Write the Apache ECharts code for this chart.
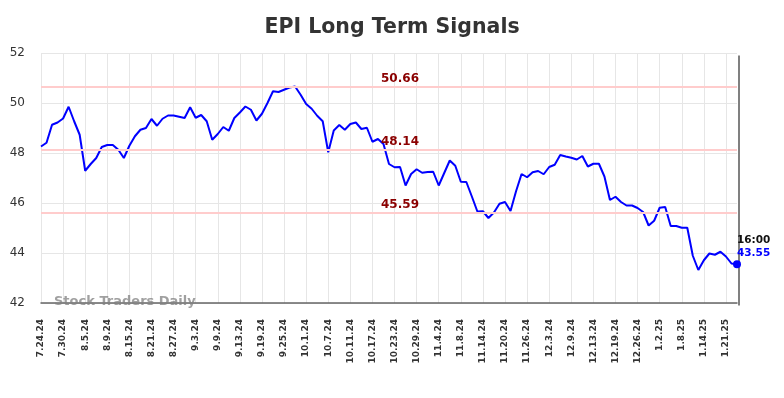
<!DOCTYPE html>
<html><head><meta charset="utf-8">
<script src="https://cdn.jsdelivr.net/npm/echarts@6/dist/echarts.min.js"></script>
<style>html,body{margin:0;padding:0;background:#fff}#c{width:784px;height:398px}</style>
</head><body><div id="c"></div>
<script>
const dates = [
"7.24.24","7.25.24","7.26.24","7.29.24","7.30.24","7.31.24",
"8.1.24","8.2.24","8.5.24","8.6.24","8.7.24","8.8.24","8.9.24","8.12.24","8.13.24","8.14.24","8.15.24","8.16.24","8.19.24","8.20.24","8.21.24","8.22.24","8.23.24","8.26.24","8.27.24","8.28.24","8.29.24","8.30.24",
"9.3.24","9.4.24","9.5.24","9.6.24","9.9.24","9.10.24","9.11.24","9.12.24","9.13.24","9.16.24","9.17.24","9.18.24","9.19.24","9.20.24","9.23.24","9.24.24","9.25.24","9.26.24","9.27.24","9.30.24",
"10.1.24","10.2.24","10.3.24","10.4.24","10.7.24","10.8.24","10.9.24","10.10.24","10.11.24","10.14.24","10.15.24","10.16.24","10.17.24","10.18.24","10.21.24","10.22.24","10.23.24","10.24.24","10.25.24","10.28.24","10.29.24","10.30.24","10.31.24",
"11.1.24","11.4.24","11.5.24","11.6.24","11.7.24","11.8.24","11.11.24","11.12.24","11.13.24","11.14.24","11.15.24","11.18.24","11.19.24","11.20.24","11.21.24","11.22.24","11.25.24","11.26.24","11.27.24","11.29.24",
"12.2.24","12.3.24","12.4.24","12.5.24","12.6.24","12.9.24","12.10.24","12.11.24","12.12.24","12.13.24","12.16.24","12.17.24","12.18.24","12.19.24","12.20.24","12.23.24","12.24.24","12.26.24","12.27.24","12.30.24","12.31.24",
"1.2.25","1.3.25","1.6.25","1.7.25","1.8.25","1.9.25","1.10.25","1.13.25","1.14.25","1.15.25","1.16.25","1.17.25","1.21.25","1.22.25","1.23.25"
];
const prices = [
48.26,48.41,49.13,49.22,49.38,49.85,49.27,48.73,47.29,47.56,
47.80,48.24,48.32,48.32,48.13,47.80,48.29,48.67,48.93,49.00,
49.36,49.09,49.37,49.50,49.50,49.45,49.40,49.83,49.41,49.52,
49.27,48.53,48.76,49.04,48.89,49.40,49.62,49.86,49.73,49.30,
49.57,50.00,50.47,50.44,50.53,50.62,50.66,50.33,49.96,49.77,
49.49,49.27,48.03,48.90,49.12,48.93,49.16,49.22,48.96,49.01,
48.45,48.56,48.36,47.56,47.43,47.44,46.70,47.16,47.35,47.21,
47.24,47.25,46.70,47.20,47.70,47.49,46.85,46.84,46.26,45.66,
45.67,45.40,45.62,45.97,46.04,45.68,46.47,47.16,47.03,47.23,
47.28,47.15,47.44,47.53,47.92,47.86,47.81,47.74,47.88,47.46,
47.57,47.57,47.06,46.12,46.25,46.04,45.90,45.90,45.80,45.64,
45.10,45.29,45.81,45.84,45.08,45.08,45.01,45.01,43.89,43.32,
43.71,43.98,43.93,44.05,43.86,43.58,43.55
];
const levels = [50.66, 48.14, 45.59];
const yTicks = [42, 44, 46, 48, 50, 52];
const lastTime = "16:00";

const chart = echarts.init(document.getElementById('c'), null, {renderer:'canvas'});
const last = prices.length - 1;

chart.setOption({
  animation: false,
  title: {
    text: 'EPI Long Term Signals', left: 'center', top: 12,
    textStyle: {fontFamily: 'DejaVu Sans', fontWeight: 'bold', fontSize: 20.5, color: '#333'}
  },
  grid: {left: 41, right: 47, top: 53, bottom: 95},
  xAxis: {
    type: 'category', data: dates, boundaryGap: false,
    axisLine: {show: true, lineStyle: {color: '#666', width: 1.5}},
    axisTick: {show: false},
    axisLabel: {
      interval: 3, rotate: 90, color: '#333', fontFamily: 'DejaVu Sans',
      fontWeight: 'bold', fontSize: 9, margin: 16
    },
    splitLine: {show: true, interval: 3, lineStyle: {color: '#e6e6e6', width: 1}}
  },
  yAxis: {
    type: 'value', min: yTicks[0], max: yTicks[yTicks.length - 1], interval: 2, position: 'left',
    axisLine: {show: false}, axisTick: {show: false},
    axisLabel: {color: '#333', fontSize: 12, fontFamily: 'DejaVu Sans', margin: 16},
    splitLine: {show: true, lineStyle: {color: '#e6e6e6', width: 1}}
  },
  graphic: [
    {type: 'text', left: 54, top: 295, silent: true, z: 10,
     style: {text: 'Stock Traders Daily', fill: 'rgba(128,128,128,0.75)', font: 'bold 13px "DejaVu Sans"'}},
    {type: 'line', left: 736.5, top: 53, shape: {x1: 0, y1: 0, x2: 0, y2: 250},
     style: {stroke: '#808080', lineWidth: 2}}
  ],
  series: [{
    type: 'line', data: prices, showSymbol: false, symbol: 'none',
    lineStyle: {color: '#0000ff', width: 2}, itemStyle: {color: '#0000ff'},
    markLine: {
      silent: true, symbol: 'none',
      lineStyle: {color: '#ffcccc', width: 2, type: 'solid'},
      label: {
        show: true, position: 'middle', distance: 2, offset: [11, 0],
        color: '#8b0000', fontWeight: 'bold', fontSize: 12, fontFamily: 'DejaVu Sans',
        formatter: p => p.value.toFixed(2)
      },
      data: levels.map(l => ({yAxis: l}))
    },
    markPoint: {
      silent: true, symbol: 'circle', symbolSize: 8,
      itemStyle: {color: '#0000ff'},
      label: {
        show: true, position: [4, -27],
        formatter: '{t|' + lastTime + '}\n{v|' + prices[last].toFixed(2) + '}',
        rich: {
          t: {color: '#111', fontWeight: 'bold', fontSize: 10.5, fontFamily: 'DejaVu Sans', lineHeight: 13.5, align: 'left'},
          v: {color: '#0000ff', fontWeight: 'bold', fontSize: 10.5, fontFamily: 'DejaVu Sans', lineHeight: 13.5, align: 'left'}
        }
      },
      data: [{coord: [last, prices[last]]}]
    }
  }]
});
</script></body></html>
